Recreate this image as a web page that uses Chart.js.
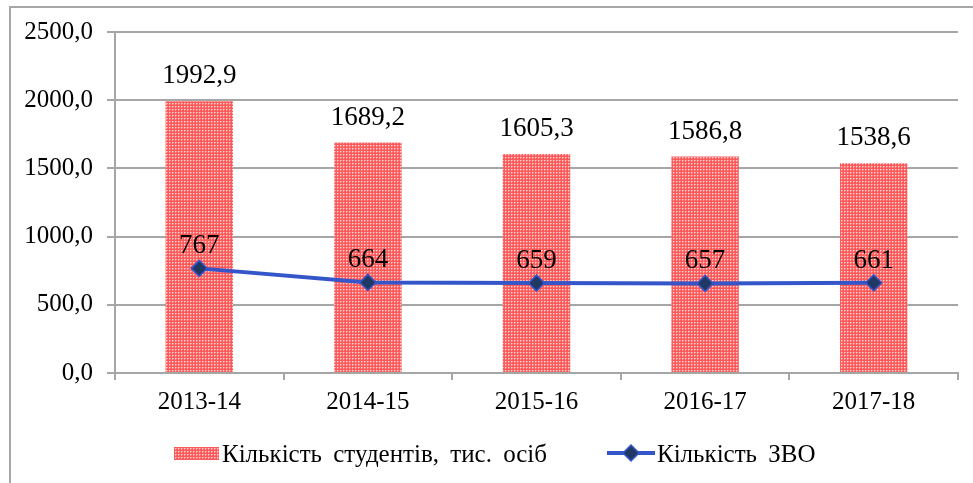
<!DOCTYPE html>
<html lang="uk">
<head>
    <meta charset="UTF-8">
    <title>Кількість студентів та ЗВО</title>
    <script src="https://cdn.jsdelivr.net/npm/chart.js@4.4.1/dist/chart.umd.min.js"></script>
    <style>
        html, body { margin: 0; padding: 0; background: #fff; }
        #wrap { width: 973px; height: 483px; }
    </style>
</head>
<body>
<div id="wrap"><canvas id="myChart" width="973" height="483"></canvas></div>
<script>
    const categories = ['2013-14', '2014-15', '2015-16', '2016-17', '2017-18'];
    const students = [1992.9, 1689.2, 1605.3, 1586.8, 1538.6];
    const institutions = [767, 664, 659, 657, 661];
    const studentsLabel = 'Кількість студентів, тис. осіб';
    const institutionsLabel = 'Кількість ЗВО';

    const FONT = '"Liberation Serif", "Times New Roman", serif';
    const FS = 25;      // axes + legend
    const FS_VAL = 27;  // value labels

    // red dotted fill like the office pattern
    function makePattern() {
        const c = document.createElement('canvas');
        c.width = 3; c.height = 3;
        const g = c.getContext('2d');
        g.fillStyle = '#ff5959';
        g.fillRect(0, 0, 3, 3);
        g.fillStyle = '#ffd6d6';
        g.fillRect(1, 1, 1, 1);
        g.fillStyle = '#ff9a9a';
        g.fillRect(2, 1, 1, 1);
        g.fillRect(1, 2, 1, 1);
        return g.createPattern(c, 'repeat');
    }

    const ctx = document.getElementById('myChart').getContext('2d');
    const barFill = makePattern();
    const lineColor = '#3556c8';
    const markerFill = '#1f3864';

    const fmt = v => v.toFixed(1).replace('.', ',');

    const frame = {
        id: 'frame',
        beforeDraw(chart) {
            const c = chart.ctx;
            c.save();
            c.strokeStyle = '#a6a6a6';
            c.lineWidth = 2;
            c.beginPath();
            c.moveTo(10, 483);
            c.lineTo(10, 7);
            c.lineTo(973, 7);
            c.stroke();
            c.restore();
        }
    };

    // datasets: 0 = line (drawn on top), 1 = bars
    const valueLabels = {
        id: 'valueLabels',
        afterDatasetsDraw(chart) {
            const c = chart.ctx;
            c.save();
            c.font = FS_VAL + 'px ' + FONT;
            c.fillStyle = '#000';
            c.textAlign = 'center';
            c.textBaseline = 'alphabetic';
            chart.getDatasetMeta(1).data.forEach((el, i) => {
                c.fillText(fmt(students[i]), el.x, el.y - 18);
            });
            chart.getDatasetMeta(0).data.forEach((el, i) => {
                c.fillText(String(institutions[i]), el.x, el.y - 15);
            });
            c.restore();
        }
    };

    const legendBox = {
        id: 'legendBox',
        afterDraw(chart) {
            const c = chart.ctx;
            const y = 453;
            c.save();
            c.font = FS + 'px ' + FONT;
            c.textBaseline = 'middle';
            if ('wordSpacing' in c) c.wordSpacing = '5px';
            let x = 174;
            c.fillStyle = barFill;
            c.fillRect(x, y - 6, 45, 13);
            c.fillStyle = '#000';
            c.fillText(studentsLabel, x + 48, y + 2);
            x = 607;
            c.strokeStyle = lineColor;
            c.lineWidth = 4;
            c.beginPath();
            c.moveTo(x, y);
            c.lineTo(x + 48, y);
            c.stroke();
            c.fillStyle = markerFill;
            c.strokeStyle = lineColor;
            c.lineWidth = 1.5;
            c.beginPath();
            c.moveTo(x + 24, y - 8);
            c.lineTo(x + 32, y);
            c.lineTo(x + 24, y + 8);
            c.lineTo(x + 16, y);
            c.closePath();
            c.fill();
            c.stroke();
            c.fillStyle = '#000';
            c.fillText(institutionsLabel, x + 50, y + 2);
            c.restore();
        }
    };

    const config = {
        type: 'bar',
        data: {
            labels: categories,
            datasets: [
                {
                    type: 'line',
                    label: institutionsLabel,
                    data: institutions,
                    borderColor: lineColor,
                    borderWidth: 4,
                    pointStyle: 'rectRot',
                    pointRadius: 8,
                    pointBackgroundColor: markerFill,
                    pointBorderColor: lineColor,
                    pointBorderWidth: 1.5,
                    tension: 0,
                    order: 1
                },
                {
                    label: studentsLabel,
                    data: students,
                    backgroundColor: barFill,
                    categoryPercentage: 1,
                    barPercentage: 0.4,
                    order: 2
                }
            ]
        },
        options: {
            responsive: false,
            animation: false,
            layout: { padding: { top: 32, right: 15, bottom: 0, left: 0 } },
            plugins: {
                legend: { display: false },
                tooltip: { enabled: false }
            },
            scales: {
                x: {
                    offset: true,
                    grid: {
                        offset: true,
                        drawOnChartArea: false,
                        color: '#a6a6a6',
                        lineWidth: 2,
                        tickLength: 7
                    },
                    border: { color: '#a6a6a6', width: 2 },
                    ticks: {
                        color: '#000',
                        font: { family: FONT, size: FS },
                        padding: 7,
                        maxRotation: 0
                    },
                    afterFit(scale) { scale.height = 110; }
                },
                y: {
                    min: 0,
                    max: 2500,
                    grid: {
                        color: '#a6a6a6',
                        lineWidth: 2,
                        tickLength: 8
                    },
                    border: { color: '#a6a6a6', width: 2 },
                    ticks: {
                        stepSize: 500,
                        color: '#000',
                        font: { family: FONT, size: FS },
                        padding: 14,
                        callback: v => fmt(v)
                    },
                    afterFit(scale) { scale.width = 115; }
                }
            }
        },
        plugins: [frame, valueLabels, legendBox]
    };

    const myChart = new Chart(ctx, config);
</script>
</body>
</html>
